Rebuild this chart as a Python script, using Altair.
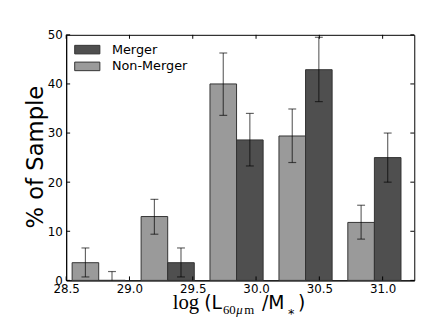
import altair as alt
import pandas as pd

# ---- data ----
bin_centers = [28.757, 29.302, 29.846, 30.391, 30.935]
nonmerger = [3.6, 13.0, 40.0, 29.4, 11.8]
nonmerger_lo = [0.7, 9.4, 33.6, 24.0, 8.4]
nonmerger_hi = [6.6, 16.5, 46.3, 34.9, 15.3]
merger = [0.0, 3.6, 28.6, 42.9, 25.0]
merger_lo = [0.0, 0.7, 23.3, 36.4, 20.0]
merger_hi = [1.8, 6.6, 34.0, 49.5, 30.0]
x_ticks = [28.5, 29.0, 29.5, 30.0, 30.5, 31.0]
y_ticks = [0, 10, 20, 30, 40, 50]
series_names = ["Merger", "Non-Merger"]

BAR_W = 0.21
W, H = 353, 249

rows = []
for c, v, lo, hi in zip(bin_centers, nonmerger, nonmerger_lo, nonmerger_hi):
    rows.append({"series": "Non-Merger", "x0": c - BAR_W, "x1": c, "xc": c - BAR_W / 2,
                 "v": v, "lo": lo, "hi": hi})
for c, v, lo, hi in zip(bin_centers, merger, merger_lo, merger_hi):
    rows.append({"series": "Merger", "x0": c, "x1": c + BAR_W, "xc": c + BAR_W / 2,
                 "v": v, "lo": lo, "hi": hi})
df = pd.DataFrame(rows)

xscale = alt.Scale(domain=[28.5, 31.25], nice=False, zero=False)
yscale = alt.Scale(domain=[0, 50], nice=False)

bars = alt.Chart(df).mark_rect(stroke="#333333", strokeWidth=1).encode(
    x=alt.X("x0:Q", scale=xscale,
            axis=alt.Axis(values=x_ticks, format=".1f", grid=False, ticks=False,
                          labelFlush=False, labelPadding=3, labelFontSize=12,
                          labelFont="DejaVu Sans", labelColor="black",
                          domainColor="black", title=None)),
    x2="x1:Q",
    y=alt.Y("v:Q", scale=yscale,
            axis=alt.Axis(values=y_ticks, format="d", grid=False, ticks=False,
                          labelPadding=4, labelFontSize=12, labelFont="DejaVu Sans",
                          labelColor="black", domainColor="black", title=None)),
    y2=alt.datum(0),
    color=alt.Color("series:N",
                    scale=alt.Scale(domain=series_names, range=["#4f4f4f", "#9a9a9a"]),
                    legend=alt.Legend(title=None, orient="none", legendX=14.4, legendY=8,
                                      padding=0,
                                      symbolType="M-2,-0.68H2V0.68H-2Z",
                                      symbolSize=163, symbolStrokeColor="#333333",
                                      symbolStrokeWidth=1, symbolOpacity=1,
                                      labelFont="DejaVu Sans", labelFontSize=13,
                                      labelColor="black", rowPadding=3,
                                      labelOffset=18)),
)

err = alt.Chart(df).mark_rule(color="black", opacity=0.6, strokeWidth=1.2).encode(
    x="xc:Q", y="lo:Q", y2="hi:Q")
cap_hi = alt.Chart(df).mark_rule(color="black", opacity=0.6, strokeWidth=1.2,
                                 xOffset=-4, x2Offset=4).encode(
    x="xc:Q", x2="xc:Q", y="hi:Q")
cap_lo = alt.Chart(df[df["lo"] > 0]).mark_rule(color="black", opacity=0.6, strokeWidth=1.2,
                                               xOffset=-4, x2Offset=4).encode(
    x="xc:Q", x2="xc:Q", y="lo:Q")

xt = pd.DataFrame({"t": x_ticks})
yt = pd.DataFrame({"t": y_ticks})
xtick_b = alt.Chart(xt).mark_rule(color="black").encode(
    x=alt.X("t:Q", scale=xscale), y=alt.value(H), y2=alt.value(H - 4))
xtick_t = alt.Chart(xt).mark_rule(color="black").encode(
    x=alt.X("t:Q", scale=xscale), y=alt.value(0), y2=alt.value(4))
ytick_l = alt.Chart(yt).mark_rule(color="black").encode(
    y=alt.Y("t:Q", scale=yscale), x=alt.value(0), x2=alt.value(4))
ytick_r = alt.Chart(yt).mark_rule(color="black").encode(
    y=alt.Y("t:Q", scale=yscale), x=alt.value(W - 4), x2=alt.value(W))

one = pd.DataFrame({"a": [0]})


def label(text, x, y, size, font, angle=0, align="left", style="normal"):
    return alt.Chart(one).mark_text(text=text, fontSize=size, font=font, align=align,
                                    baseline="alphabetic", angle=angle, fontStyle=style,
                                    color="black").encode(x=alt.value(x), y=alt.value(y))


ytitle = label("% of Sample", -24, 124, 23, "DejaVu Sans", angle=270, align="center")
xt_log = label("log", 108, 278, 21, "Liberation Serif")
xt_L = label("(L", 140, 278, 19, "DejaVu Sans")
xt_60 = label("60", 159, 283, 13, "Liberation Serif")
xt_mu = label("μ", 172.5, 283, 13, "Liberation Serif", style="italic")
xt_m = label("m", 180.5, 283, 13, "Liberation Serif")
xt_M = label("/M", 198.5, 278, 19, "DejaVu Sans")
xt_star = label("*", 225, 287, 13, "DejaVu Sans")
xt_close = label(")", 235, 278, 19, "DejaVu Sans")

chart = alt.layer(
    bars, err, cap_hi, cap_lo, xtick_b, xtick_t, ytick_l, ytick_r,
    ytitle, xt_log, xt_L, xt_60, xt_mu, xt_m, xt_M, xt_star, xt_close,
).properties(
    width=W, height=H,
    autosize=alt.AutoSizeParams(type="none"),
    padding={"left": 59, "top": 25, "right": 20, "bottom": 40},
).configure_view(stroke="black", strokeWidth=1)

chart.save("out.html", embed_options={"renderer": "svg", "actions": False})
